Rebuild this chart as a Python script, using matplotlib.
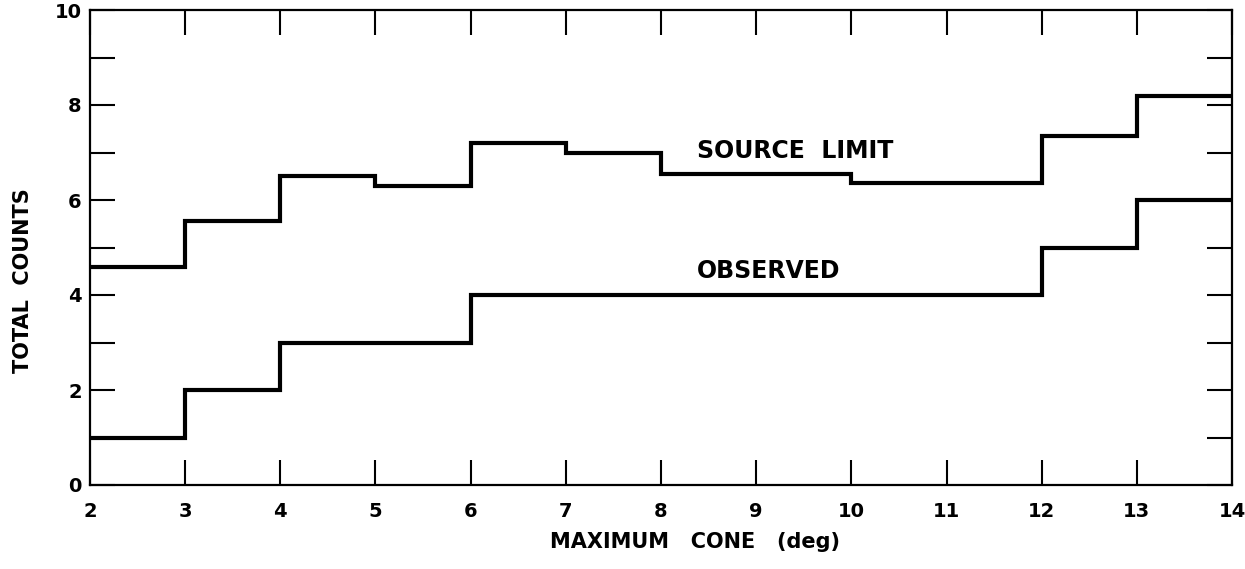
import numpy as np
import matplotlib
matplotlib.use("Agg")
import matplotlib.pyplot as plt

# cone bin edges (deg) and total counts per bin
cone_edges = [2, 3, 4, 5, 6, 7, 8, 9, 10, 11, 12, 13, 14]
source_limit = [4.6, 5.55, 6.5, 6.3, 7.2, 7.0, 6.55, 6.55, 6.35, 6.35, 7.35, 8.2]
observed = [1, 2, 3, 3, 4, 4, 4, 4, 4, 4, 5, 6]

x_ticks = list(range(2, 15))
y_ticks = [0, 2, 4, 6, 8, 10]

plt.rcParams['font.family'] = ['DejaVu Sans']

fig = plt.figure(figsize=(12.45, 5.69), dpi=100)
ax = fig.add_axes([90 / 1245, 1 - 485 / 569, (1232 - 90) / 1245, (485 - 10) / 569])

ax.stairs(source_limit, cone_edges, color='black', linewidth=3.0, baseline=None)
ax.stairs(observed, cone_edges, color='black', linewidth=3.0, baseline=None)

ax.text(8.38, 6.88, 'SOURCE  LIMIT', fontsize=17, fontweight='bold', va='baseline', ha='left')
ax.text(8.38, 4.36, 'OBSERVED', fontsize=17, fontweight='bold', va='baseline', ha='left')

ax.set_xlim(2, 14)
ax.set_ylim(0, 10)
ax.set_xticks(x_ticks)
ax.set_xticklabels([str(v) for v in x_ticks])
ax.set_yticks(y_ticks)
ax.set_yticks(range(0, 11), minor=True)
for t in ax.get_xticklabels() + ax.get_yticklabels():
    t.set_fontweight('bold')

ax.tick_params(which='both', direction='in', length=18, width=1.5,
               top=True, right=True, labelsize=14)
ax.tick_params(axis='x', pad=12)
ax.tick_params(axis='y', pad=6)

for sp in ax.spines.values():
    sp.set_linewidth(1.6)

ax.set_xlabel('MAXIMUM   CONE   (deg)', fontsize=15, fontweight='bold')
ax.set_ylabel('TOTAL  COUNTS', fontsize=15, fontweight='bold')
ax.xaxis.set_label_coords(0.53, -0.098)
ax.yaxis.set_label_coords(-0.05, 0.43)

fig.savefig('out.png', dpi=100)
